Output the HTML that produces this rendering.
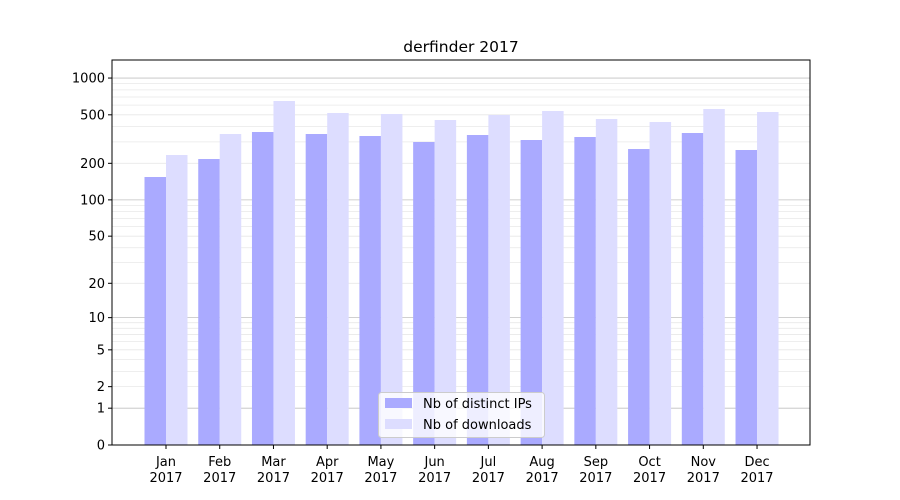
<!DOCTYPE html>
<html><head><meta charset="utf-8"><style>
body{margin:0;background:#fff;}
svg{display:block;font-family:"DejaVu Sans","Liberation Sans",sans-serif;}
</style></head><body>
<svg id="s" width="900" height="500" xmlns="http://www.w3.org/2000/svg"></svg>
<script>
const s=document.getElementById('s');
let h='<rect width="900" height="500" fill="#fff"/>';
const L=112,R=810,T=60,B=445;
function y(v){return 445-122.3*Math.log10(1+v);}
for(let k=0;k<4;k++){for(let m=2;m<10;m++){const v=m*Math.pow(10,k);const yy=y(v);if(yy<T)continue;
 h+=`<line x1="${L}" x2="${R}" y1="${yy}" y2="${yy}" stroke="#e8e8e8" stroke-width="0.8"/>`;}}
[1,10,100,1000].forEach(v=>{const yy=y(v);h+=`<line x1="${L}" x2="${R}" y1="${yy}" y2="${yy}" stroke="#c0c0c0" stroke-width="0.8"/>`;});
const dark=[177,159,132,134,136,142,135,140,137,149,133,150];
const light=[155,134,101,113,114,120,115,111,119,122,109,112];
const mon=["Jan","Feb","Mar","Apr","May","Jun","Jul","Aug","Sep","Oct","Nov","Dec"];
for(let i=0;i<12;i++){
 const c=166+i*53.73;
 h+=`<rect x="${c-21.5}" y="${dark[i]}" width="21.5" height="${B-dark[i]}" fill="#aaaaff"/>`;
 h+=`<rect x="${c}" y="${light[i]}" width="21.5" height="${B-light[i]}" fill="#ddddff"/>`;
 h+=`<line x1="${c}" x2="${c}" y1="${B}" y2="${B+4}" stroke="#000"/>`;
 h+=`<text x="${c}" y="466" font-size="13" text-anchor="middle">${mon[i]}</text>`;
 h+=`<text x="${c}" y="482" font-size="13" text-anchor="middle">2017</text>`;
}
[[0,'0'],[1,'1'],[2,'2'],[5,'5'],[10,'10'],[20,'20'],[50,'50'],[100,'100'],[200,'200'],[500,'500'],[1000,'1000']].forEach(([v,t])=>{
 const yy=y(v);h+=`<line x1="${L-4}" x2="${L}" y1="${yy}" y2="${yy}" stroke="#000"/>`;
 h+=`<text x="${L-7}" y="${yy+4.5}" font-size="13" text-anchor="end">${t}</text>`;});
h+=`<rect x="${L}" y="${T}" width="${R-L}" height="${B-T}" fill="none" stroke="#000" stroke-width="1"/>`;
h+=`<text x="461" y="52" font-size="15.5" text-anchor="middle">derfinder 2017</text>`;
h+=`<rect x="378.5" y="392.5" width="166" height="45" rx="3" fill="#fff" fill-opacity="0.8" stroke="#ccc"/>`;
h+=`<rect x="385" y="398" width="27" height="10" fill="#aaaaff"/><text x="423" y="408" font-size="13">Nb of distinct IPs</text>`;
h+=`<rect x="385" y="419" width="27" height="10" fill="#ddddff"/><text x="423" y="429" font-size="13">Nb of downloads</text>`;
s.innerHTML=h;
</script>
</body></html>
